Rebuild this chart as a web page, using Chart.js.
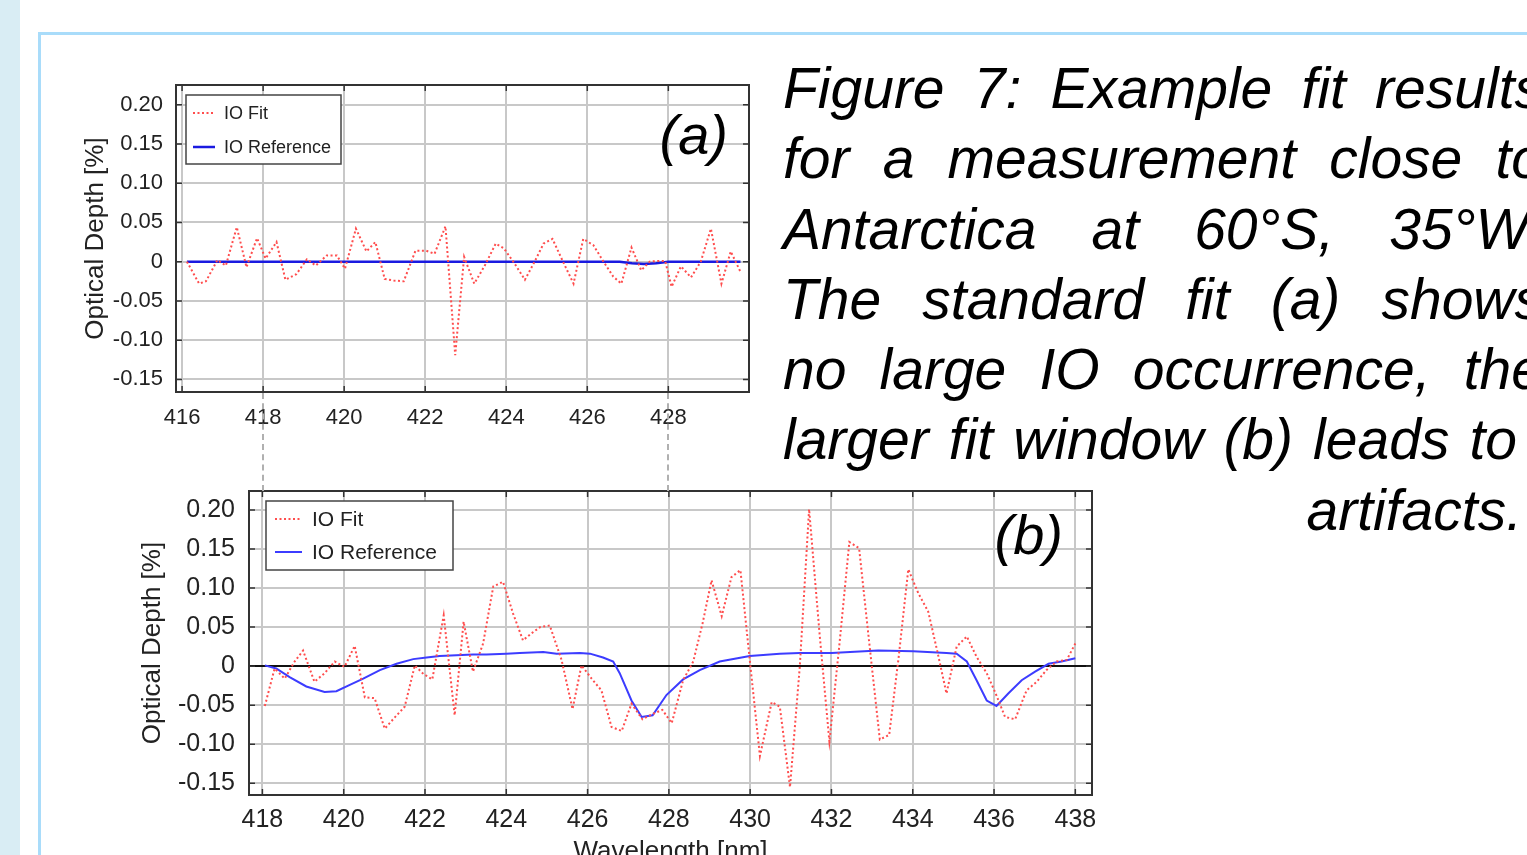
<!DOCTYPE html>
<html>
<head>
<meta charset="utf-8">
<script src="https://cdn.jsdelivr.net/npm/chart.js@4.4.1/dist/chart.umd.min.js"></script>
<style>
  html, body { margin: 0; padding: 0; width: 1527px; height: 855px; overflow: hidden; background: #fff; }
  body { position: relative; font-family: 'Liberation Sans', Arial, sans-serif; }
  .strip { position: absolute; left: 0; top: 0; width: 20px; height: 855px; background: #d9edf4; }
  .panel { position: absolute; left: 38px; top: 32px; width: 1600px; height: 900px;
           border-left: 3px solid #a9dcfa; border-top: 3px solid #a9dcfa; }
  canvas { position: absolute; }
  #chartA { left: 80px; top: 53px; }
  #chartB { left: 137px; top: 459px; }
  .link { position: absolute; width: 0; border-left: 2px dashed #b0b0b0; }
  .caption { position: absolute; left: 783px; top: 53px; width: 760px;
             font-style: italic; font-size: 57px; line-height: 70.3px; color: #000; }
  .caption .j { text-align: justify; text-align-last: justify; }
  .caption .s { text-align: justify; text-align-last: justify; width: 734px; }
  .caption .r { text-align: right; width: 739px; }
</style>
</head>
<body>
<div class="strip"></div>
<div class="panel"></div>

<canvas id="chartA" width="699" height="389"></canvas>
<canvas id="chartB" width="985" height="408"></canvas>

<div class="caption">
  <div class="j">Figure 7: Example fit results</div>
  <div class="j">for a measurement close to</div>
  <div class="j">Antarctica at 60°S, 35°W.</div>
  <div class="j">The standard fit (a) shows</div>
  <div class="j">no large IO occurrence, the</div>
  <div class="s">larger fit window (b) leads to</div>
  <div class="r">artifacts.</div>
</div>

<script>
// ---- (a) standard fit window ----
const WL_A_FIT = [416.12, 416.42, 416.59, 416.87, 417.08, 417.35, 417.59, 417.85, 418.06, 418.33,
                  418.55, 418.82, 419.08, 419.30, 419.57, 419.82, 420.02, 420.29, 420.55, 420.77,
                  421.00, 421.22, 421.47, 421.76, 422.02, 422.23, 422.50, 422.74, 422.96, 423.21,
                  423.47, 423.74, 423.94, 424.20, 424.46, 424.70, 424.92, 425.14, 425.40, 425.66,
                  425.90, 426.15, 426.40, 426.64, 426.84, 427.09, 427.33, 427.54, 427.74, 427.92,
                  428.08, 428.31, 428.56, 428.80, 429.05, 429.31, 429.54, 429.78];
const OD_A_FIT = [0.000, -0.028, -0.025, 0.002, -0.005, 0.044, -0.007, 0.030, 0.004, 0.025,
                  -0.023, -0.016, 0.003, -0.005, 0.008, 0.008, -0.009, 0.042, 0.013, 0.025,
                  -0.022, -0.024, -0.025, 0.014, 0.014, 0.010, 0.045, -0.119, 0.006, -0.028,
                  -0.005, 0.023, 0.017, -0.002, -0.023, 0.000, 0.023, 0.029, 0.000, -0.028,
                  0.029, 0.021, 0.000, -0.019, -0.028, 0.018, -0.011, 0.000, 0.001, 0.001,
                  -0.032, -0.006, -0.020, 0.000, 0.042, -0.028, 0.013, -0.013];
const WL_A_REF = [416.12, 426.80, 427.10, 427.40, 427.70, 428.00, 429.78];
const OD_A_REF = [0.000, 0.000, -0.002, -0.003, -0.002, 0.000, 0.000];
const X_TICKS_A = [416, 418, 420, 422, 424, 426, 428];

// ---- (b) larger fit window ----
const WL_B_FIT = [418.06, 418.30, 418.55, 418.78, 419.00, 419.28, 419.53, 419.78, 420.02, 420.27,
                  420.52, 420.76, 421.01, 421.25, 421.50, 421.75, 421.96, 422.18, 422.46, 422.73,
                  422.95, 423.18, 423.43, 423.68, 423.92, 424.17, 424.41, 424.62, 424.83, 425.07,
                  425.36, 425.63, 425.85, 426.10, 426.34, 426.59, 426.84, 427.08, 427.35, 427.61,
                  427.84, 428.07, 428.35, 428.60, 428.83, 429.05, 429.30, 429.54, 429.76, 429.99,
                  430.24, 430.53, 430.73, 430.98, 431.22, 431.45, 431.71, 431.95, 432.20, 432.44,
                  432.68, 432.94, 433.19, 433.42, 433.65, 433.89, 434.14, 434.38, 434.60, 434.83,
                  435.08, 435.33, 435.57, 435.82, 436.04, 436.27, 436.52, 436.80, 437.05, 437.29,
                  437.54, 437.79, 438.00];
const OD_B_FIT = [-0.051, -0.003, -0.016, 0.005, 0.020, -0.020, -0.009, 0.006, -0.001, 0.026,
                  -0.040, -0.041, -0.080, -0.066, -0.052, 0.001, -0.010, -0.017, 0.065, -0.063,
                  0.057, -0.007, 0.029, 0.102, 0.108, 0.067, 0.033, 0.042, 0.050, 0.052,
                  0.008, -0.055, 0.001, -0.016, -0.031, -0.078, -0.083, -0.048, -0.068, -0.061,
                  -0.056, -0.073, -0.018, 0.006, 0.055, 0.110, 0.064, 0.114, 0.123, 0.008,
                  -0.115, -0.046, -0.052, -0.155, -0.001, 0.201, 0.040, -0.097, 0.030, 0.159,
                  0.151, 0.025, -0.094, -0.088, 0.010, 0.124, 0.093, 0.070, 0.020, -0.035,
                  0.025, 0.038, 0.012, -0.009, -0.035, -0.065, -0.068, -0.031, -0.020, -0.005,
                  0.006, 0.008, 0.029];
const WL_B_REF = [418.06, 418.34, 418.67, 419.08, 419.53, 419.82, 420.15, 420.48, 420.89, 421.30,
                  421.71, 422.04, 422.36, 422.77, 423.18, 423.51, 424.00, 424.33, 424.91, 425.24,
                  425.81, 426.06, 426.38, 426.63, 426.79, 427.08, 427.33, 427.60, 427.94, 428.35,
                  428.76, 429.25, 429.99, 430.73, 431.22, 432.00, 433.15, 434.01, 434.83, 435.08,
                  435.33, 435.57, 435.82, 436.06, 436.35, 436.68, 437.01, 437.34, 437.66, 438.00];
const OD_B_REF = [0.001, -0.003, -0.014, -0.026, -0.033, -0.032, -0.024, -0.016, -0.005, 0.003,
                  0.009, 0.011, 0.013, 0.014, 0.015, 0.015, 0.016, 0.017, 0.018, 0.016,
                  0.017, 0.016, 0.011, 0.006, -0.009, -0.044, -0.065, -0.063, -0.037, -0.017,
                  -0.005, 0.006, 0.013, 0.016, 0.017, 0.017, 0.020, 0.019, 0.017, 0.016,
                  0.006, -0.018, -0.044, -0.051, -0.035, -0.018, -0.007, 0.003, 0.006, 0.010];
const X_TICKS_B = [418, 420, 422, 424, 426, 428, 430, 432, 434, 436, 438];

const Y_TICKS = [-0.15, -0.10, -0.05, 0, 0.05, 0.10, 0.15, 0.20];
const SERIES = ['IO Fit', 'IO Reference'];

const FONT = "'Liberation Sans', Arial, sans-serif";
Chart.defaults.font.family = FONT;
Chart.defaults.color = '#222';

const zip = (xs, ys) => xs.map((x, i) => ({ x, y: ys[i] }));
const fmtOD = v => Math.abs(v) < 1e-9 ? '0' : v.toFixed(2);

// box frame, inward ticks on all four sides, boxed legend and panel tag
const framePlugin = {
  id: 'frame',
  afterDatasetsDraw(chart, args, o) {
    const { ctx, chartArea: a, scales: { x, y } } = chart;
    ctx.save();
    ctx.strokeStyle = '#333';
    ctx.lineWidth = 1.5;
    ctx.beginPath();
    x.ticks.forEach(t => {
      const px = x.getPixelForValue(t.value);
      ctx.moveTo(px, a.bottom); ctx.lineTo(px, a.bottom - 6);
      ctx.moveTo(px, a.top);    ctx.lineTo(px, a.top + 6);
    });
    y.ticks.forEach(t => {
      const py = y.getPixelForValue(t.value);
      ctx.moveTo(a.left, py);  ctx.lineTo(a.left + 6, py);
      ctx.moveTo(a.right, py); ctx.lineTo(a.right - 6, py);
    });
    ctx.stroke();
    ctx.lineWidth = 2;
    ctx.strokeRect(a.left, a.top, a.right - a.left, a.bottom - a.top);
    ctx.restore();
  },
  afterDraw(chart, args, o) {
    const { ctx, chartArea: a } = chart;
    const L = o.legend;
    ctx.save();
    const bx = a.left + L.x, by = a.top + L.y;
    ctx.fillStyle = '#fff';
    ctx.fillRect(bx, by, L.w, L.h);
    ctx.strokeStyle = '#444';
    ctx.lineWidth = 1.5;
    ctx.strokeRect(bx, by, L.w, L.h);
    ctx.font = L.font;
    ctx.textBaseline = 'middle';
    ctx.textAlign = 'left';
    chart.data.datasets.forEach((ds, i) => {
      const ry = by + L.rows[i];
      ctx.strokeStyle = ds.borderColor;
      ctx.lineWidth = ds.borderWidth;
      ctx.setLineDash(ds.borderDash || []);
      ctx.beginPath();
      ctx.moveTo(bx + L.line[0], ry);
      ctx.lineTo(bx + L.line[1], ry);
      ctx.stroke();
      ctx.setLineDash([]);
      ctx.fillStyle = '#222';
      ctx.fillText(ds.label, bx + L.text, ry + 1);
    });
    const T = o.tag;
    ctx.font = T.font;
    ctx.fillStyle = '#000';
    ctx.textAlign = 'right';
    ctx.fillText(T.text, a.right - T.dx, a.top + T.dy);
    ctx.restore();
  },
};

function makePanel(id, p) {
  return new Chart(document.getElementById(id), {
    type: 'line',
    data: {
      datasets: [
        {
          label: SERIES[0],
          data: zip(p.wlFit, p.odFit),
          borderColor: '#ff4d4d',
          borderWidth: 2,
          borderDash: [2, 2.5],
          pointRadius: 0,
          tension: 0,
        },
        {
          label: SERIES[1],
          data: zip(p.wlRef, p.odRef),
          borderColor: p.refColor,
          borderWidth: p.refWidth,
          pointRadius: 0,
          tension: 0,
        },
      ],
    },
    options: {
      responsive: false,
      animation: false,
      events: [],
      layout: { padding: { top: 32, right: 30, bottom: 0, left: 0 } },
      plugins: {
        legend: { display: false },
        tooltip: { enabled: false },
        frame: { legend: p.legend, tag: p.tag },
      },
      scales: {
        x: {
          type: 'linear',
          min: p.xMin,
          max: p.xMax,
          afterBuildTicks: s => { s.ticks = p.xTicks.map(v => ({ value: v })); },
          afterFit: s => { s.height = p.xHeight; },
          grid: { color: '#c8c8c8', lineWidth: 2, drawTicks: false },
          border: { display: false },
          ticks: { font: { size: p.tickSize }, padding: p.xPad, color: '#222', maxRotation: 0 },
          title: {
            display: !!p.xTitle,
            text: p.xTitle || '',
            font: { size: 26 },
            padding: { top: 0, bottom: 0 },
            color: '#222',
          },
        },
        y: {
          type: 'linear',
          min: p.yMin,
          max: p.yMax,
          afterBuildTicks: s => { s.ticks = Y_TICKS.map(v => ({ value: v })); },
          afterFit: s => { s.width = p.yWidth; },
          grid: {
            color: c => (p.zeroLine && c.tick && Math.abs(c.tick.value) < 1e-9) ? '#111' : '#c8c8c8',
            lineWidth: 2,
            drawTicks: false,
          },
          border: { display: false },
          ticks: { font: { size: p.tickSize }, padding: p.yPad, color: '#222', callback: fmtOD },
          title: {
            display: true,
            text: 'Optical Depth [%]',
            font: { size: 26 },
            padding: { top: 0, bottom: 0 },
            color: '#222',
          },
        },
      },
    },
    plugins: [framePlugin],
  });
}

const chartA = makePanel('chartA', {
  wlFit: WL_A_FIT, odFit: OD_A_FIT, wlRef: WL_A_REF, odRef: OD_A_REF,
  refColor: '#1a1ae0', refWidth: 2.5,
  xMin: 415.85, xMax: 429.99, xTicks: X_TICKS_A,
  yMin: -0.166, yMax: 0.225,
  xHeight: 50, yWidth: 96, tickSize: 22, xPad: 13, yPad: 13,
  zeroLine: false,
  legend: { x: 10, y: 10, w: 155, h: 69, rows: [18, 52], line: [7, 29], text: 38, font: `18px ${FONT}` },
  tag: { text: '(a)', dx: 21, dy: 53, font: `italic 56px ${FONT}` },
});

const chartB = makePanel('chartB', {
  wlFit: WL_B_FIT, odFit: OD_B_FIT, wlRef: WL_B_REF, odRef: OD_B_REF,
  refColor: '#3c3cff', refWidth: 2,
  xMin: 417.67, xMax: 438.41, xTicks: X_TICKS_B,
  yMin: -0.165, yMax: 0.2243,
  xHeight: 72, yWidth: 112, tickSize: 25, xPad: 10, yPad: 14,
  zeroLine: true,
  xTitle: 'Wavelength [nm]',
  legend: { x: 17, y: 10, w: 187, h: 69, rows: [18, 51], line: [9, 36], text: 46, font: `21px ${FONT}` },
  tag: { text: '(b)', dx: 29, dy: 47, font: `italic 56px ${FONT}` },
});

// dashed connectors tying the 418 nm and 428 nm lines of both panels
function addLink(wl) {
  const ca = document.getElementById('chartA'), cb = document.getElementById('chartB');
  const x = ca.offsetLeft + chartA.scales.x.getPixelForValue(wl);
  const top = ca.offsetTop + chartA.chartArea.bottom + 1;
  const bottom = cb.offsetTop + chartB.chartArea.top;
  const d = document.createElement('div');
  d.className = 'link';
  d.style.left = (x - 1) + 'px';
  d.style.top = top + 'px';
  d.style.height = (bottom - top) + 'px';
  document.body.appendChild(d);
}
addLink(418);
addLink(428);
</script>
</body>
</html>
